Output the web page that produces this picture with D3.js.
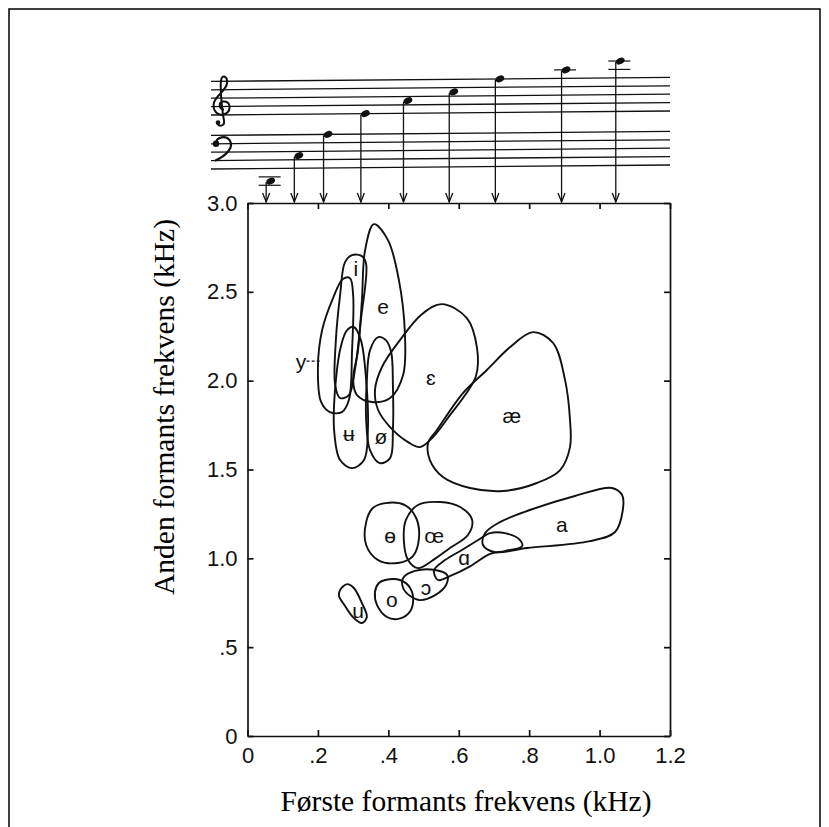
<!DOCTYPE html>
<html>
<head>
<meta charset="utf-8">
<style>
  body { margin: 0; background: #fff; }
  svg { display: block; }
  .axis path, .axis line { stroke: #111; stroke-width: 1.7; }
  .axis text { font-family: "Liberation Sans", Arial, sans-serif; font-size: 22px; fill: #111; }
  .loop { fill: none; stroke: #111; stroke-width: 1.9; }
  .vlabel { font-family: "Liberation Sans", "DejaVu Sans", sans-serif; font-size: 21px; fill: #111; }
  .title { font-family: "Liberation Serif", "Times New Roman", serif; font-size: 29.5px; fill: #000; }
</style>
<script src="https://cdn.jsdelivr.net/npm/d3@7"></script>
</head>
<body>
<div id="chart"></div>
<script>
// axis ticks
var xTicks = [0, 0.2, 0.4, 0.6, 0.8, 1.0, 1.2];
var xTickLabels = ["0", ".2", ".4", ".6", ".8", "1.0", "1.2"];
var yTicks = [0, 0.5, 1.0, 1.5, 2.0, 2.5, 3.0];
var yTickLabels = ["0", ".5", "1.0", "1.5", "2.0", "2.5", "3.0"];

// notes on the staff: pitch frequency (kHz), staff and step above the staff's bottom line
var noteFreqs = [0.053, 0.133, 0.216, 0.322, 0.443, 0.573, 0.704, 0.892, 1.046];
var noteStaff = ["bass", "bass", "bass", "treble", "treble", "treble", "treble", "treble", "treble"];
var noteSteps = [-3, 3, 8, 0, 3, 5, 8, 10, 12];

// vowel areas, [F1, F2] in kHz
var loopI = [[0.277,2.667],[0.297,2.707],[0.325,2.701],[0.337,2.656],[0.322,2.341],[0.305,2.060],[0.288,1.919],[0.263,1.902],[0.249,1.975],[0.251,2.228],[0.263,2.482]];
var loopY = [[0.271,2.572],[0.291,2.577],[0.300,2.482],[0.297,2.172],[0.288,1.891],[0.268,1.823],[0.234,1.823],[0.209,1.880],[0.200,2.071],[0.212,2.285],[0.243,2.465]];
var loopE = [[0.359,2.881],[0.334,2.735],[0.325,2.454],[0.314,2.172],[0.300,2.003],[0.311,1.919],[0.354,1.880],[0.405,1.902],[0.442,2.032],[0.447,2.268],[0.430,2.566],[0.399,2.791]];
var loopUu = [[0.283,2.285],[0.302,2.302],[0.322,2.228],[0.337,2.003],[0.342,1.722],[0.331,1.553],[0.297,1.508],[0.263,1.553],[0.246,1.722],[0.251,2.003],[0.266,2.200]];
var loopOe = [[0.371,2.245],[0.393,2.228],[0.408,2.161],[0.413,1.975],[0.413,1.722],[0.405,1.564],[0.376,1.536],[0.348,1.609],[0.337,1.778],[0.339,2.003],[0.348,2.172]];
var loopEps = [[0.552,2.431],[0.623,2.352],[0.652,2.183],[0.649,2.026],[0.618,1.919],[0.575,1.806],[0.527,1.683],[0.490,1.626],[0.456,1.654],[0.405,1.739],[0.371,1.835],[0.362,1.947],[0.382,2.077],[0.433,2.228],[0.496,2.375]];
var loopAe = [[0.811,2.273],[0.868,2.212],[0.902,2.003],[0.916,1.778],[0.916,1.626],[0.888,1.497],[0.822,1.424],[0.726,1.379],[0.632,1.396],[0.555,1.458],[0.518,1.553],[0.513,1.649],[0.538,1.722],[0.612,1.930],[0.680,2.060],[0.746,2.189]];
var loopBarO = [[0.391,1.311],[0.447,1.300],[0.479,1.227],[0.487,1.114],[0.470,1.013],[0.427,0.974],[0.371,0.990],[0.337,1.075],[0.337,1.204],[0.356,1.283]];
var loopOeLig = [[0.484,1.300],[0.547,1.317],[0.604,1.289],[0.638,1.216],[0.626,1.131],[0.575,1.058],[0.527,0.990],[0.484,0.945],[0.456,0.990],[0.444,1.103],[0.450,1.216]];
var loopA = [[0.675,1.142],[0.717,1.204],[0.802,1.272],[0.930,1.351],[1.035,1.396],[1.064,1.356],[1.066,1.272],[1.044,1.148],[0.973,1.097],[0.794,1.058],[0.703,1.035],[0.669,1.075]];
var loopScriptA = [[0.530,0.934],[0.561,0.990],[0.609,1.047],[0.655,1.103],[0.689,1.142],[0.731,1.142],[0.774,1.103],[0.780,1.069],[0.731,1.041],[0.689,1.025],[0.632,0.955],[0.581,0.905],[0.541,0.878]];
var loopOpenO = [[0.442,0.889],[0.476,0.929],[0.533,0.934],[0.567,0.906],[0.564,0.850],[0.533,0.793],[0.490,0.765],[0.462,0.788],[0.442,0.833]];
var loopO = [[0.391,0.878],[0.433,0.878],[0.462,0.833],[0.470,0.748],[0.456,0.687],[0.425,0.658],[0.396,0.670],[0.368,0.737],[0.362,0.810],[0.373,0.861]];
var loopU = [[0.263,0.822],[0.283,0.855],[0.302,0.833],[0.325,0.748],[0.339,0.670],[0.325,0.636],[0.302,0.664],[0.277,0.732],[0.260,0.788]];

var vowelLoops = [loopI, loopY, loopE, loopUu, loopOe, loopEps, loopAe, loopBarO, loopOeLig, loopA, loopScriptA, loopOpenO, loopO, loopU];

// vowel symbols and where they sit [F1, F2]
var vowelNames = ["i", "e", "y", "ɛ", "æ", "ʉ", "ø", "ɵ", "œ", "ɑ", "a", "ɔ", "o", "u"];
var vowelF1 = [0.308, 0.385, 0.152, 0.521, 0.751, 0.288, 0.379, 0.405, 0.530, 0.615, 0.893, 0.507, 0.410, 0.314];
var vowelF2 = [2.634, 2.420, 2.110, 2.020, 1.806, 1.705, 1.683, 1.131, 1.131, 1.002, 1.193, 0.838, 0.771, 0.709];

var width = 829, height = 827;

var svg = d3.select("#chart").append("svg")
    .attr("width", width)
    .attr("height", height);

// frame round the page
svg.append("rect")
    .attr("x", 9).attr("y", 9)
    .attr("width", 811).attr("height", 840)
    .attr("fill", "none")
    .attr("stroke", "#000")
    .attr("stroke-width", 1.5);

var x = d3.scaleLinear().domain([0, 1.2]).range([247.5, 670]);
var y = d3.scaleLinear().domain([0, 3.0]).range([736, 203]);

// axes, ticks pointing inward
svg.append("g").attr("class", "axis")
    .attr("transform", "translate(0," + y(0) + ")")
    .call(d3.axisBottom(x).tickValues(xTicks)
        .tickFormat(function (d, i) { return xTickLabels[i]; })
        .tickSizeInner(-6).tickSizeOuter(0).tickPadding(11));

svg.append("g").attr("class", "axis")
    .attr("transform", "translate(0," + y(3.0) + ")")
    .call(d3.axisTop(x).tickValues(xTicks).tickFormat("")
        .tickSizeInner(-6).tickSizeOuter(0));

svg.append("g").attr("class", "axis")
    .attr("transform", "translate(" + x(0) + ",0)")
    .call(d3.axisLeft(y).tickValues(yTicks)
        .tickFormat(function (d, i) { return yTickLabels[i]; })
        .tickSizeInner(-6).tickSizeOuter(0).tickPadding(10));

svg.append("g").attr("class", "axis")
    .attr("transform", "translate(" + x(1.2) + ",0)")
    .call(d3.axisRight(y).tickValues(yTicks).tickFormat("")
        .tickSizeInner(-6).tickSizeOuter(0));

// vowel loops
var loopLine = d3.line()
    .x(function (d) { return x(d[0]); })
    .y(function (d) { return y(d[1]); })
    .curve(d3.curveCatmullRomClosed.alpha(0.5));

svg.append("g").selectAll("path")
    .data(vowelLoops)
    .enter().append("path")
    .attr("class", "loop")
    .attr("d", loopLine);

svg.append("g").selectAll("text")
    .data(vowelNames)
    .enter().append("text")
    .attr("class", "vlabel")
    .attr("x", function (d, i) { return x(vowelF1[i]); })
    .attr("y", function (d, i) { return y(vowelF2[i]); })
    .attr("text-anchor", "middle")
    .attr("dominant-baseline", "central")
    .text(function (d) { return d; });

// little pointer from the y label to its loop
svg.append("line")
    .attr("x1", x(0.168)).attr("x2", x(0.21))
    .attr("y1", y(2.11)).attr("y2", y(2.11))
    .attr("stroke", "#111").attr("stroke-width", 1.3)
    .attr("stroke-dasharray", "3,2");

// music staff above the chart
var staffLeft = 211, staffRight = 670, slant = -4 / 458;
var stepSize = 4.2;
var staffBottom = { bass: 169, treble: 115 };

function staffY(staff, step, px) {
    return staffBottom[staff] - step * stepSize + slant * (px - staffLeft);
}

var staffG = svg.append("g").attr("stroke", "#111").attr("stroke-width", 1.3);
["bass", "treble"].forEach(function (s) {
    [0, 2, 4, 6, 8].forEach(function (st) {
        staffG.append("line")
            .attr("x1", staffLeft).attr("x2", staffRight)
            .attr("y1", staffY(s, st, staffLeft))
            .attr("y2", staffY(s, st, staffRight));
    });
});

// treble clef
var treble = svg.append("g")
    .attr("transform", "translate(222," + staffY("treble", 2, 222) + ")");
treble.append("path")
    .attr("d", "M2,3 C-3,3 -4,-4 1,-5 C8,-6 10,3 4,7 C-4,11 -10,4 -8,-4 C-6,-11 4,-16 5,-23 C6,-30 0,-33 -1,-26 C-2,-18 0,4 2,14 C3,20 -4,21 -5,16")
    .attr("fill", "none").attr("stroke", "#111").attr("stroke-width", 2);
treble.append("circle").attr("cx", -4).attr("cy", 16).attr("r", 2.3).attr("fill", "#111");

// bass clef
var bass = svg.append("g")
    .attr("transform", "translate(216," + staffY("bass", 6, 216) + ")");
bass.append("circle").attr("r", 3.2).attr("fill", "#111");
bass.append("path")
    .attr("d", "M0,0 C0,-7 10,-9 14,-3 C18,4 10,12 -1,17")
    .attr("fill", "none").attr("stroke", "#111").attr("stroke-width", 2.2);

// notes with arrows down to the frame
var notes = noteFreqs.map(function (f, i) {
    var sx = x(f);
    return { sx: sx, hx: sx + 4.5, hy: staffY(noteStaff[i], noteSteps[i], sx + 4.5), staff: noteStaff[i], step: noteSteps[i] };
});

var noteG = svg.append("g");
notes.forEach(function (n) {
    var top = y(3.0) - 1;
    noteG.append("line")
        .attr("x1", n.sx).attr("x2", n.sx)
        .attr("y1", n.hy + 1).attr("y2", top)
        .attr("stroke", "#111").attr("stroke-width", 1.3);
    noteG.append("path")
        .attr("d", "M" + (n.sx - 3.5) + "," + (top - 9) + " L" + n.sx + "," + top + " L" + (n.sx + 3.5) + "," + (top - 9))
        .attr("fill", "none").attr("stroke", "#111").attr("stroke-width", 1.3);
    noteG.append("ellipse")
        .attr("cx", n.hx).attr("cy", n.hy)
        .attr("rx", 4.6).attr("ry", 3.1)
        .attr("transform", "rotate(-25," + n.hx + "," + n.hy + ")")
        .attr("fill", "#111");
    // ledger lines outside the staff
    var ledgers = [];
    if (n.step < 0) { for (var s = -2; s >= n.step - 1; s -= 2) ledgers.push(s); }
    if (n.step > 8) { for (var t = 10; t <= n.step; t += 2) ledgers.push(t); }
    ledgers.forEach(function (st) {
        noteG.append("line")
            .attr("x1", n.hx - 12).attr("x2", n.hx + 10)
            .attr("y1", staffY(n.staff, st, n.hx)).attr("y2", staffY(n.staff, st, n.hx))
            .attr("stroke", "#111").attr("stroke-width", 1.2);
    });
});

// axis titles
svg.append("text")
    .attr("class", "title")
    .attr("x", 466).attr("y", 811)
    .attr("text-anchor", "middle")
    .text("Første formants frekvens (kHz)");

svg.append("text")
    .attr("class", "title")
    .attr("transform", "translate(174,407) rotate(-90)")
    .attr("text-anchor", "middle")
    .text("Anden formants frekvens (kHz)");
</script>
</body>
</html>
